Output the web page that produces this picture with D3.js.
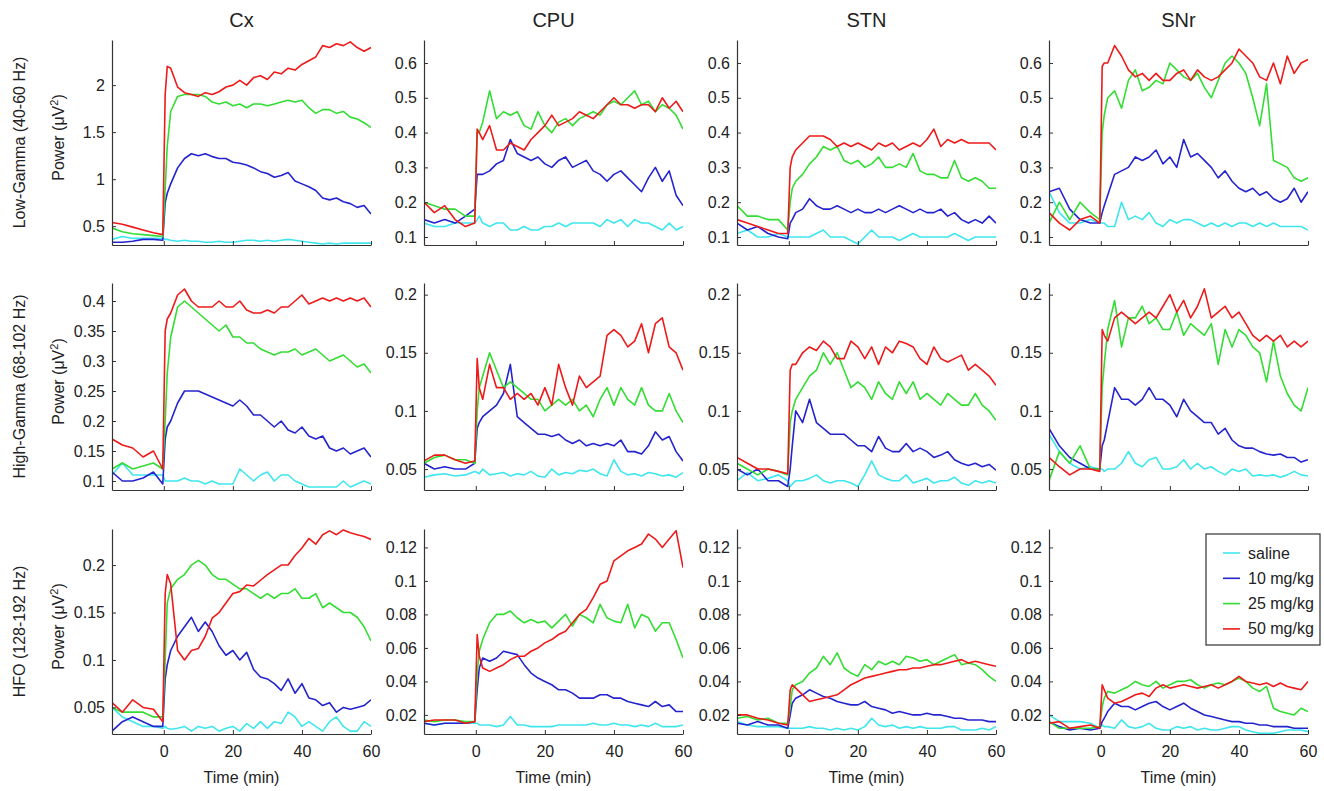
<!DOCTYPE html>
<html>
<head>
<meta charset="utf-8">
<script src="https://cdn.jsdelivr.net/npm/d3@7"></script>
<style>
  body { margin: 0; background: #fff; }
  text { font-family: "Liberation Sans", Arial, sans-serif; fill: #222; }
</style>
</head>
<body>
<svg id="chart" width="1324" height="791"></svg>
<script>
// ---- data ----
const time = [-15, -12, -9, -6, -3, -0.3, 0.4, 1, 2,
  4, 6, 8, 10, 12, 14, 16, 18, 20, 22, 24, 26, 28, 30, 32, 34, 36, 38,
  40, 42, 44, 46, 48, 50, 52, 54, 56, 58, 60];

const regions = ["Cx", "CPU", "STN", "SNr"];
const bands = ["Low-Gamma (40-60 Hz)", "High-Gamma (68-102 Hz)", "HFO (128-192 Hz)"];
const doses = ["saline", "10 mg/kg", "25 mg/kg", "50 mg/kg"];
const xTicks = [0, 20, 40, 60];

const yTicksLowCx = [0.5, 1, 1.5, 2];
const yTicksLow = [0.1, 0.2, 0.3, 0.4, 0.5, 0.6];
const yTicksHighCx = [0.1, 0.15, 0.2, 0.25, 0.3, 0.35, 0.4];
const yTicksHigh = [0.05, 0.1, 0.15, 0.2];
const yTicksHfoCx = [0.05, 0.1, 0.15, 0.2];
const yTicksHfo = [0.02, 0.04, 0.06, 0.08, 0.1, 0.12];

const yLimLowCx = [0.3, 2.48], yLimLow = [0.077, 0.666];
const yLimHighCx = [0.085, 0.43], yLimHigh = [0.032, 0.21];
const yLimHfoCx = [0.022, 0.238], yLimHfo = [0.0086, 0.131];

// each panel: [saline, 10 mg/kg, 25 mg/kg, 50 mg/kg]
const lowCx = [
  [0.36, 0.39, 0.37, 0.37, 0.37, 0.37, 0.36, 0.36, 0.35, 0.34, 0.35, 0.34, 0.34, 0.33, 0.33, 0.34, 0.33, 0.33, 0.34, 0.35, 0.35, 0.34, 0.35, 0.34, 0.35, 0.36, 0.35, 0.34, 0.33, 0.32, 0.31, 0.32, 0.31, 0.32, 0.32, 0.32, 0.32, 0.32],
  [0.33, 0.33, 0.34, 0.36, 0.36, 0.35, 0.75, 0.85, 0.95, 1.12, 1.22, 1.27, 1.25, 1.27, 1.24, 1.22, 1.22, 1.18, 1.17, 1.15, 1.12, 1.08, 1.06, 1.02, 1.04, 1.07, 0.98, 0.95, 0.92, 0.88, 0.8, 0.78, 0.8, 0.76, 0.74, 0.7, 0.72, 0.63],
  [0.48, 0.44, 0.42, 0.41, 0.4, 0.39, 0.9, 1.35, 1.72, 1.88, 1.9, 1.9, 1.9, 1.88, 1.82, 1.8, 1.82, 1.78, 1.8, 1.76, 1.8, 1.8, 1.78, 1.8, 1.82, 1.84, 1.82, 1.84, 1.76, 1.7, 1.74, 1.74, 1.7, 1.72, 1.66, 1.64, 1.6, 1.55],
  [0.54, 0.52, 0.49, 0.46, 0.43, 0.41, 1.9, 2.2, 2.18, 1.98, 1.92, 1.9, 1.88, 1.92, 1.9, 1.93, 1.98, 2.0, 2.05, 2.0, 2.08, 2.1, 2.06, 2.14, 2.12, 2.18, 2.16, 2.22, 2.26, 2.3, 2.42, 2.4, 2.44, 2.42, 2.46, 2.4, 2.36, 2.4]
];
const lowCPU = [
  [0.14, 0.13, 0.13, 0.14, 0.14, 0.14, 0.15, 0.16, 0.14, 0.13, 0.14, 0.14, 0.12, 0.12, 0.13, 0.12, 0.12, 0.13, 0.13, 0.14, 0.13, 0.14, 0.14, 0.14, 0.14, 0.13, 0.15, 0.14, 0.15, 0.13, 0.15, 0.14, 0.14, 0.13, 0.12, 0.14, 0.12, 0.13],
  [0.15, 0.14, 0.15, 0.14, 0.16, 0.18, 0.28, 0.28, 0.28, 0.29, 0.31, 0.32, 0.38, 0.34, 0.33, 0.32, 0.33, 0.31, 0.3, 0.32, 0.33, 0.3, 0.31, 0.32, 0.29, 0.28, 0.26, 0.28, 0.29, 0.27, 0.25, 0.23, 0.27, 0.3, 0.26, 0.29, 0.22, 0.19],
  [0.2, 0.19, 0.18, 0.18, 0.16, 0.16, 0.4, 0.4, 0.43, 0.52, 0.44, 0.46, 0.45, 0.46, 0.42, 0.41, 0.46, 0.42, 0.4, 0.43, 0.44, 0.42, 0.44, 0.45, 0.46, 0.45, 0.48, 0.49, 0.48, 0.5, 0.52, 0.48, 0.49, 0.46, 0.48, 0.47, 0.45, 0.41],
  [0.2, 0.17, 0.19, 0.15, 0.13, 0.14, 0.41, 0.4, 0.38, 0.42, 0.35, 0.35, 0.37, 0.36, 0.35, 0.38, 0.4, 0.42, 0.45, 0.42, 0.43, 0.44, 0.46, 0.45, 0.44, 0.46, 0.48, 0.5, 0.48, 0.48, 0.47, 0.48, 0.48, 0.46, 0.5, 0.47, 0.49, 0.46]
];
const lowSTN = [
  [0.11, 0.12, 0.1, 0.1, 0.11, 0.1, 0.1, 0.1, 0.1, 0.1, 0.1, 0.11, 0.12, 0.1, 0.1, 0.1, 0.09, 0.08, 0.1, 0.12, 0.1, 0.1, 0.1, 0.09, 0.1, 0.11, 0.1, 0.1, 0.1, 0.1, 0.1, 0.11, 0.1, 0.09, 0.1, 0.1, 0.1, 0.1],
  [0.14, 0.12, 0.13, 0.11, 0.1, 0.095, 0.14, 0.15, 0.17, 0.18, 0.21, 0.19, 0.18, 0.18, 0.19, 0.18, 0.17, 0.18, 0.17, 0.17, 0.18, 0.17, 0.18, 0.19, 0.18, 0.17, 0.18, 0.17, 0.17, 0.18, 0.16, 0.17, 0.15, 0.14, 0.15, 0.14, 0.16, 0.14],
  [0.19, 0.16, 0.16, 0.15, 0.15, 0.12, 0.2, 0.24, 0.26, 0.28, 0.31, 0.33, 0.36, 0.35, 0.36, 0.32, 0.31, 0.32, 0.3, 0.31, 0.33, 0.3, 0.3, 0.31, 0.3, 0.34, 0.29, 0.28, 0.28, 0.27, 0.27, 0.32, 0.27, 0.26, 0.27, 0.26, 0.24, 0.24],
  [0.15, 0.14, 0.13, 0.12, 0.11, 0.11, 0.3, 0.33, 0.35, 0.37, 0.39, 0.39, 0.39, 0.38, 0.36, 0.37, 0.36, 0.37, 0.36, 0.35, 0.37, 0.36, 0.37, 0.35, 0.36, 0.37, 0.36, 0.38, 0.41, 0.36, 0.38, 0.37, 0.38, 0.37, 0.37, 0.37, 0.37, 0.35]
];
const lowSNr = [
  [0.23, 0.17, 0.14, 0.14, 0.15, 0.14, 0.14, 0.14, 0.13, 0.13, 0.2, 0.15, 0.16, 0.15, 0.17, 0.14, 0.13, 0.15, 0.14, 0.15, 0.15, 0.14, 0.13, 0.14, 0.13, 0.14, 0.13, 0.14, 0.14, 0.13, 0.14, 0.13, 0.14, 0.13, 0.13, 0.13, 0.13, 0.12],
  [0.23, 0.24, 0.18, 0.15, 0.14, 0.14, 0.17, 0.19, 0.22, 0.28, 0.29, 0.3, 0.33, 0.32, 0.33, 0.35, 0.31, 0.33, 0.3, 0.38, 0.33, 0.34, 0.32, 0.3, 0.27, 0.29, 0.26, 0.24, 0.23, 0.24, 0.22, 0.23, 0.21, 0.2, 0.21, 0.24, 0.2, 0.23],
  [0.14, 0.2, 0.15, 0.2, 0.17, 0.15, 0.4, 0.45, 0.5, 0.52, 0.47, 0.55, 0.58, 0.52, 0.53, 0.55, 0.54, 0.6, 0.58, 0.56, 0.55, 0.57, 0.53, 0.5, 0.55, 0.6, 0.62, 0.6, 0.57, 0.5, 0.42, 0.54, 0.32, 0.31, 0.3, 0.27, 0.26, 0.27],
  [0.17, 0.14, 0.12, 0.15, 0.16, 0.14, 0.59, 0.6, 0.6, 0.65, 0.62, 0.58, 0.56, 0.57, 0.55, 0.57, 0.55, 0.55, 0.57, 0.58, 0.55, 0.58, 0.56, 0.55, 0.56, 0.58, 0.6, 0.64, 0.62, 0.6, 0.56, 0.55, 0.6, 0.54, 0.62, 0.57, 0.6, 0.61]
];
const highCx = [
  [0.11, 0.13, 0.11, 0.11, 0.11, 0.11, 0.1, 0.1, 0.1, 0.1, 0.105, 0.1, 0.1, 0.095, 0.1, 0.095, 0.095, 0.095, 0.12, 0.11, 0.1, 0.11, 0.115, 0.1, 0.11, 0.11, 0.1, 0.095, 0.09, 0.09, 0.09, 0.09, 0.09, 0.1, 0.09, 0.095, 0.1, 0.095],
  [0.115, 0.1, 0.1, 0.105, 0.115, 0.095, 0.17, 0.19, 0.2, 0.23, 0.25, 0.25, 0.25, 0.245, 0.24, 0.235, 0.23, 0.225, 0.235, 0.225, 0.21, 0.21, 0.2, 0.19, 0.2, 0.185, 0.18, 0.19, 0.175, 0.17, 0.175, 0.155, 0.15, 0.155, 0.145, 0.15, 0.155, 0.14],
  [0.12, 0.13, 0.12, 0.125, 0.13, 0.12, 0.2, 0.28, 0.34, 0.39, 0.4, 0.39, 0.38, 0.37, 0.36, 0.35, 0.36, 0.34, 0.34, 0.33, 0.33, 0.32, 0.315, 0.31, 0.315, 0.315, 0.32, 0.31, 0.315, 0.32, 0.31, 0.3, 0.305, 0.31, 0.3, 0.29, 0.295, 0.28],
  [0.17, 0.16, 0.155, 0.14, 0.15, 0.12, 0.35, 0.37, 0.38, 0.41, 0.42, 0.4, 0.39, 0.39, 0.39, 0.4, 0.39, 0.39, 0.4, 0.385, 0.38, 0.38, 0.385, 0.38, 0.39, 0.39, 0.4, 0.41, 0.395, 0.4, 0.405, 0.4, 0.405, 0.4, 0.405, 0.4, 0.405, 0.39]
];
const highCPU = [
  [0.043, 0.045, 0.046, 0.044, 0.045, 0.048, 0.047, 0.046, 0.05, 0.045, 0.046, 0.047, 0.044, 0.046, 0.045, 0.048, 0.044, 0.043, 0.05, 0.045, 0.047, 0.046, 0.049, 0.048, 0.05, 0.046, 0.044, 0.058, 0.048, 0.045, 0.046, 0.044, 0.047, 0.046, 0.044, 0.045, 0.043, 0.047],
  [0.055, 0.05, 0.052, 0.05, 0.05, 0.055, 0.085, 0.09, 0.095, 0.1, 0.105, 0.115, 0.14, 0.095, 0.09, 0.085, 0.08, 0.08, 0.078, 0.08, 0.075, 0.072, 0.075, 0.07, 0.072, 0.07, 0.072, 0.07, 0.075, 0.065, 0.065, 0.063, 0.07, 0.082, 0.075, 0.078, 0.065, 0.057],
  [0.055, 0.06, 0.062, 0.058, 0.058, 0.055, 0.1, 0.12, 0.13, 0.15, 0.135, 0.12, 0.125, 0.12, 0.115, 0.11, 0.11, 0.1, 0.105, 0.11, 0.105, 0.11, 0.1, 0.105, 0.095, 0.11, 0.12, 0.105, 0.12, 0.11, 0.105, 0.12, 0.105, 0.1, 0.1, 0.115, 0.1, 0.09],
  [0.057, 0.062, 0.062, 0.058, 0.055, 0.057, 0.145, 0.12, 0.11, 0.14, 0.12, 0.12, 0.11, 0.115, 0.11, 0.115, 0.105, 0.12, 0.105, 0.14, 0.12, 0.105, 0.13, 0.12, 0.125, 0.13, 0.165, 0.17, 0.165, 0.155, 0.16, 0.175, 0.15, 0.175, 0.18, 0.155, 0.15, 0.135]
];
const highSTN = [
  [0.04, 0.047, 0.04, 0.042, 0.045, 0.04, 0.035, 0.037, 0.04, 0.04, 0.042, 0.045, 0.04, 0.038, 0.04, 0.04, 0.038, 0.035, 0.045, 0.057, 0.045, 0.042, 0.04, 0.04, 0.045, 0.038, 0.04, 0.042, 0.038, 0.04, 0.04, 0.043, 0.038, 0.036, 0.04, 0.038, 0.04, 0.038],
  [0.05, 0.045, 0.05, 0.04, 0.04, 0.035, 0.05, 0.07, 0.1, 0.09, 0.11, 0.09, 0.085, 0.08, 0.08, 0.08, 0.075, 0.07, 0.07, 0.065, 0.078, 0.068, 0.065, 0.065, 0.072, 0.065, 0.068, 0.065, 0.06, 0.062, 0.065, 0.058, 0.055, 0.053, 0.055, 0.052, 0.054, 0.049],
  [0.055, 0.05, 0.045, 0.05, 0.048, 0.045, 0.09, 0.1, 0.11, 0.12, 0.13, 0.135, 0.15, 0.14, 0.15, 0.135, 0.12, 0.125, 0.12, 0.11, 0.125, 0.115, 0.11, 0.125, 0.115, 0.125, 0.11, 0.115, 0.11, 0.105, 0.115, 0.11, 0.105, 0.105, 0.115, 0.105, 0.1, 0.092],
  [0.06, 0.055, 0.05, 0.05, 0.048, 0.046, 0.135, 0.14, 0.14, 0.15, 0.155, 0.152, 0.16, 0.155, 0.145, 0.145, 0.16, 0.155, 0.145, 0.155, 0.14, 0.155, 0.15, 0.16, 0.158, 0.155, 0.145, 0.14, 0.155, 0.145, 0.142, 0.145, 0.148, 0.135, 0.14, 0.135, 0.13, 0.122]
];
const highSNr = [
  [0.08, 0.065, 0.055, 0.05, 0.052, 0.05, 0.05, 0.048, 0.05, 0.05, 0.055, 0.065, 0.055, 0.052, 0.058, 0.06, 0.05, 0.05, 0.052, 0.058, 0.05, 0.055, 0.05, 0.052, 0.048, 0.045, 0.05, 0.048, 0.05, 0.044, 0.045, 0.044, 0.045, 0.043, 0.045, 0.048, 0.045, 0.044],
  [0.085, 0.07, 0.06, 0.055, 0.05, 0.05, 0.07, 0.075, 0.09, 0.12, 0.11, 0.11, 0.105, 0.11, 0.12, 0.11, 0.11, 0.105, 0.095, 0.11, 0.1, 0.095, 0.09, 0.09, 0.08, 0.085, 0.075, 0.07, 0.068, 0.068, 0.065, 0.063, 0.062, 0.063, 0.06, 0.06, 0.056, 0.058],
  [0.04, 0.065, 0.055, 0.07, 0.05, 0.05, 0.12, 0.14, 0.17, 0.195, 0.155, 0.18, 0.18, 0.19, 0.175, 0.18, 0.17, 0.17, 0.185, 0.165, 0.175, 0.17, 0.165, 0.175, 0.14, 0.17, 0.155, 0.17, 0.165, 0.155, 0.15, 0.125, 0.16, 0.13, 0.115, 0.105, 0.1, 0.12],
  [0.06, 0.052, 0.045, 0.05, 0.05, 0.048, 0.17, 0.165, 0.16, 0.18, 0.185, 0.18, 0.175, 0.18, 0.185, 0.18, 0.19, 0.2, 0.185, 0.195, 0.18, 0.19, 0.205, 0.18, 0.185, 0.19, 0.18, 0.185, 0.175, 0.165, 0.16, 0.165, 0.16, 0.165, 0.155, 0.16, 0.155, 0.16]
];
const hfoCx = [
  [0.05, 0.04, 0.035, 0.03, 0.03, 0.028, 0.03, 0.028, 0.027, 0.028, 0.03, 0.025, 0.03, 0.028, 0.03, 0.025, 0.028, 0.03, 0.025, 0.033, 0.028, 0.035, 0.028, 0.035, 0.033, 0.045, 0.04, 0.03, 0.035, 0.03, 0.025, 0.035, 0.04, 0.03, 0.025, 0.025, 0.035, 0.03],
  [0.025, 0.035, 0.04, 0.035, 0.03, 0.03, 0.08, 0.095, 0.11, 0.125, 0.135, 0.145, 0.13, 0.14, 0.13, 0.115, 0.105, 0.11, 0.1, 0.108, 0.09, 0.082, 0.08, 0.075, 0.068, 0.08, 0.065, 0.075, 0.06, 0.058, 0.052, 0.055, 0.045, 0.05, 0.048, 0.05, 0.052, 0.058],
  [0.05, 0.045, 0.045, 0.045, 0.04, 0.04, 0.1, 0.16, 0.175, 0.185, 0.19, 0.2, 0.205, 0.2, 0.19, 0.185, 0.185, 0.18, 0.175, 0.175, 0.17, 0.165, 0.17, 0.165, 0.17, 0.17, 0.175, 0.165, 0.165, 0.17, 0.155, 0.16, 0.155, 0.15, 0.15, 0.145, 0.135, 0.12],
  [0.055, 0.045, 0.058, 0.05, 0.048, 0.035, 0.17, 0.19, 0.18, 0.11, 0.1, 0.11, 0.112, 0.125, 0.144, 0.15, 0.16, 0.17, 0.172, 0.179, 0.178, 0.184, 0.19, 0.195, 0.2, 0.2, 0.21, 0.218, 0.228, 0.222, 0.232, 0.236, 0.232, 0.237, 0.234, 0.232, 0.23, 0.227]
];
const hfoCPU = [
  [0.015, 0.014, 0.015, 0.015, 0.015, 0.015, 0.015, 0.014, 0.014, 0.014, 0.013, 0.014, 0.019, 0.014, 0.014, 0.013, 0.013, 0.013, 0.013, 0.014, 0.014, 0.014, 0.014, 0.014, 0.015, 0.014, 0.014, 0.015, 0.014, 0.014, 0.013, 0.014, 0.013, 0.015, 0.013, 0.013, 0.013, 0.014],
  [0.015, 0.014, 0.015, 0.015, 0.015, 0.016, 0.035, 0.048, 0.054, 0.052, 0.054, 0.058, 0.057, 0.056, 0.05, 0.045, 0.042, 0.04, 0.038, 0.035, 0.035, 0.033, 0.03, 0.03, 0.03, 0.032, 0.032, 0.03, 0.03, 0.028, 0.027, 0.026, 0.025, 0.028, 0.025, 0.026, 0.022, 0.022],
  [0.017, 0.016, 0.017, 0.017, 0.016, 0.016, 0.045, 0.058, 0.065, 0.075, 0.08, 0.08, 0.082, 0.078, 0.075, 0.077, 0.075, 0.076, 0.072, 0.076, 0.08, 0.073, 0.08, 0.078, 0.075, 0.086, 0.078, 0.076, 0.075, 0.086, 0.072, 0.08, 0.078, 0.07, 0.075, 0.075, 0.065, 0.054],
  [0.016, 0.017, 0.017, 0.017, 0.015, 0.016, 0.068, 0.055, 0.048, 0.046, 0.048, 0.05, 0.053, 0.055, 0.055, 0.058, 0.06, 0.063, 0.065, 0.068, 0.07, 0.075, 0.08, 0.083, 0.09, 0.098, 0.1, 0.112, 0.115, 0.118, 0.12, 0.122, 0.128, 0.125, 0.12, 0.125, 0.13, 0.108]
];
const hfoSTN = [
  [0.016, 0.014, 0.013, 0.013, 0.013, 0.012, 0.012, 0.012, 0.012, 0.012, 0.013, 0.012, 0.012, 0.011, 0.012, 0.011, 0.012, 0.011, 0.013, 0.018, 0.014, 0.013, 0.014, 0.012, 0.013, 0.012, 0.013, 0.012, 0.012, 0.012, 0.013, 0.013, 0.011, 0.011, 0.011, 0.012, 0.011, 0.013],
  [0.015, 0.014, 0.016, 0.014, 0.014, 0.012, 0.02, 0.027, 0.03, 0.032, 0.035, 0.033, 0.031, 0.03, 0.028, 0.027, 0.026, 0.026, 0.028, 0.025, 0.024, 0.023, 0.021, 0.022, 0.021, 0.02, 0.02, 0.021, 0.02, 0.02, 0.019, 0.018, 0.018, 0.017, 0.017, 0.017, 0.016, 0.016],
  [0.018, 0.019, 0.017, 0.018, 0.015, 0.015, 0.025, 0.035, 0.038, 0.04, 0.045, 0.048, 0.055, 0.05, 0.057, 0.048, 0.045, 0.043, 0.05, 0.047, 0.052, 0.05, 0.052, 0.05, 0.055, 0.054, 0.052, 0.053, 0.05, 0.052, 0.054, 0.056, 0.05, 0.051, 0.05, 0.047, 0.043, 0.04],
  [0.02, 0.02, 0.018, 0.017, 0.015, 0.014, 0.035, 0.038, 0.036, 0.032, 0.028, 0.029, 0.03, 0.031, 0.032, 0.035, 0.038, 0.04, 0.042, 0.043, 0.044, 0.045, 0.046, 0.047, 0.047, 0.048, 0.048, 0.049, 0.05, 0.05, 0.051, 0.052, 0.053, 0.051, 0.052, 0.051, 0.05, 0.049]
];
const hfoSNr = [
  [0.02, 0.016, 0.016, 0.016, 0.015, 0.012, 0.014, 0.013, 0.013, 0.012, 0.017, 0.013, 0.012, 0.013, 0.015, 0.012, 0.011, 0.011, 0.013, 0.012, 0.013, 0.011, 0.012, 0.011, 0.011, 0.012, 0.013, 0.013, 0.011, 0.01, 0.009, 0.009, 0.009, 0.01, 0.011, 0.011, 0.011, 0.01],
  [0.016, 0.013, 0.011, 0.012, 0.011, 0.012, 0.016, 0.018, 0.022, 0.027, 0.025, 0.025, 0.023, 0.025, 0.027, 0.028, 0.025, 0.023, 0.025, 0.027, 0.024, 0.022, 0.02, 0.019, 0.018, 0.017, 0.016, 0.016, 0.015, 0.015, 0.014, 0.014, 0.013, 0.013, 0.013, 0.012, 0.012, 0.012],
  [0.016, 0.012, 0.012, 0.012, 0.012, 0.013, 0.025, 0.03, 0.034, 0.033, 0.035, 0.037, 0.04, 0.038, 0.037, 0.04, 0.036, 0.038, 0.04, 0.04, 0.041, 0.038, 0.036, 0.038, 0.039, 0.038, 0.04, 0.042, 0.04, 0.036, 0.034, 0.037, 0.024, 0.022, 0.021, 0.02, 0.024, 0.022],
  [0.015, 0.016, 0.012, 0.013, 0.014, 0.012, 0.038, 0.035, 0.03, 0.027, 0.028, 0.03, 0.032, 0.033, 0.031, 0.036, 0.038, 0.036, 0.037, 0.038, 0.037, 0.036, 0.037, 0.038, 0.036, 0.038, 0.04, 0.043, 0.04, 0.039, 0.038, 0.039, 0.037, 0.039, 0.037, 0.036, 0.035, 0.04]
];

// ---- layout ----
const colors = ["#3fe6ee", "#2424cf", "#33dd33", "#ee1a1a"];
const colX = [112, 424, 737, 1049];
const rowY = [40, 283, 529];
const rowH = [205, 207, 205];
const panelW = 259;
const fontTick = 16;

const panels = [
  [lowCx, lowCPU, lowSTN, lowSNr],
  [highCx, highCPU, highSTN, highSNr],
  [hfoCx, hfoCPU, hfoSTN, hfoSNr]
];
const yLims = [[yLimLowCx, yLimLow], [yLimHighCx, yLimHigh], [yLimHfoCx, yLimHfo]];
const yTicks = [[yTicksLowCx, yTicksLow], [yTicksHighCx, yTicksHigh], [yTicksHfoCx, yTicksHfo]];

const svg = d3.select("#chart");

// column titles
regions.forEach((r, c) => {
  svg.append("text")
    .attr("x", colX[c] + panelW / 2)
    .attr("y", 27)
    .attr("text-anchor", "middle")
    .attr("font-size", 20)
    .text(r);
});

panels.forEach((row, r) => {
  const top = rowY[r], h = rowH[r];

  // row labels
  const cy = top + h / 2;
  svg.append("text")
    .attr("transform", `translate(25,${cy}) rotate(-90)`)
    .attr("text-anchor", "middle")
    .attr("font-size", 16)
    .text(bands[r]);
  const pw = svg.append("text")
    .attr("transform", `translate(64,${cy - 5}) rotate(-90)`)
    .attr("text-anchor", "middle")
    .attr("font-size", 16);
  pw.append("tspan").text("Power (\u03bcV");
  pw.append("tspan").attr("baseline-shift", "super").attr("font-size", 11).text("2");
  pw.append("tspan").text(")");

  row.forEach((series, c) => {
    const left = colX[c];
    const k = c === 0 ? 0 : 1;
    const x = d3.scaleLinear().domain([-15, 60]).range([left, left + panelW]);
    const y = d3.scaleLinear().domain(yLims[r][k]).range([top + h, top]);

    const clipId = `clip-${r}-${c}`;
    svg.append("clipPath").attr("id", clipId)
      .append("rect")
      .attr("x", left).attr("y", top)
      .attr("width", panelW).attr("height", h);

    const line = d3.line()
      .x((d, i) => x(time[i]))
      .y(d => y(d));

    svg.append("g")
      .attr("clip-path", `url(#${clipId})`)
      .selectAll("path")
      .data(series)
      .join("path")
      .attr("d", line)
      .attr("fill", "none")
      .attr("stroke", (d, i) => colors[i])
      .attr("stroke-width", 1.6)
      .attr("stroke-linejoin", "round");

    const xAxis = d3.axisBottom(x)
      .tickValues(xTicks)
      .tickSizeInner(-4)
      .tickSizeOuter(0)
      .tickPadding(12)
      .tickFormat(r === 2 ? d3.format("d") : () => "");
    const gx = svg.append("g")
      .attr("transform", `translate(0,${top + h})`)
      .call(xAxis);

    const yAxis = d3.axisLeft(y)
      .tickValues(yTicks[r][k])
      .tickSizeInner(-4)
      .tickSizeOuter(0)
      .tickPadding(7)
      .tickFormat(d => String(d));
    const gy = svg.append("g")
      .attr("transform", `translate(${left},0)`)
      .call(yAxis);

    [gx, gy].forEach(g => {
      g.select(".domain").attr("stroke", "#333").attr("stroke-width", 1.2);
      g.selectAll(".tick line").attr("stroke", "#333");
      g.selectAll(".tick text")
        .attr("font-size", fontTick)
        .attr("font-family", "'Liberation Sans', Arial, sans-serif")
        .attr("fill", "#222");
    });

    if (r === 2) {
      svg.append("text")
        .attr("x", left + panelW / 2)
        .attr("y", 783)
        .attr("text-anchor", "middle")
        .attr("font-size", 16)
        .text("Time (min)");
    }
  });
});

// legend
const lg = svg.append("g").attr("transform", "translate(1206,534)");
lg.append("rect")
  .attr("width", 114).attr("height", 111)
  .attr("fill", "#fff").attr("stroke", "#333").attr("stroke-width", 1.2);
doses.forEach((d, i) => {
  const yy = 19 + i * 25.3;
  lg.append("line")
    .attr("x1", 17).attr("x2", 34)
    .attr("y1", yy).attr("y2", yy)
    .attr("stroke", colors[i]).attr("stroke-width", 1.6);
  lg.append("text")
    .attr("x", 42).attr("y", yy + 5.5)
    .attr("font-size", 16)
    .text(d);
});
</script>
</body>
</html>
